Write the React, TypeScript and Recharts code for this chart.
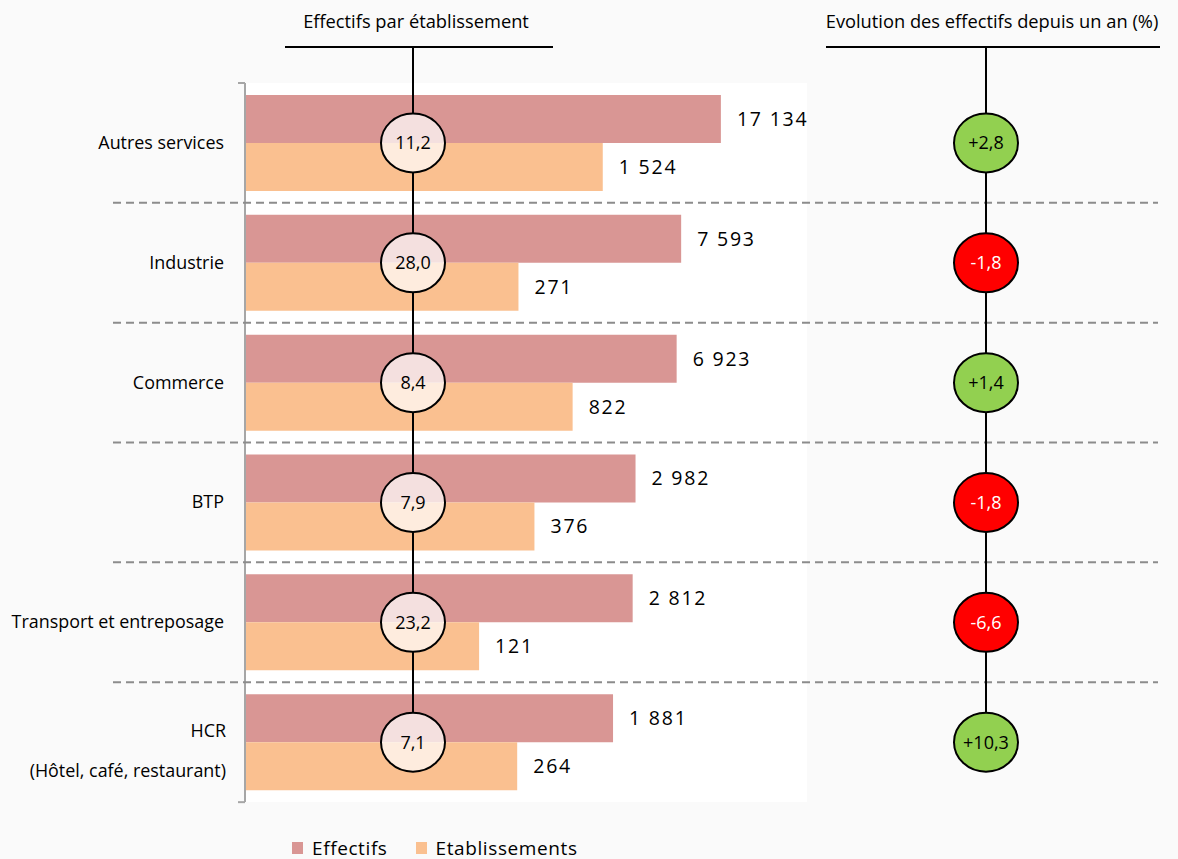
import { BarChart, Bar, XAxis, YAxis, CartesianGrid, LabelList, Legend } from "recharts";

const categories = [
  "Autres services",
  "Industrie",
  "Commerce",
  "BTP",
  "Transport et entreposage",
  "HCR\n(Hôtel, café, restaurant)",
];
const effectifs = [17134, 7593, 6923, 2982, 2812, 1881];
const etablissements = [1524, 271, 822, 376, 121, 264];
const ratios = [11.2, 28.0, 8.4, 7.9, 23.2, 7.1]; // effectifs par établissement
const evolution = [2.8, -1.8, 1.4, -1.8, -6.6, 10.3]; // % sur un an

const FONT = '"Open Sans", "Noto Sans", sans-serif';
const PINK = "#d99694";
const ORANGE = "#fac090";
const GREEN = "#92d050";
const RED = "#ff0000";

const HEADER_Y = 47;
const LEFT_CX = 413;
const RIGHT_CX = 986;
const RX = 32;
const RY = 29.5;

const rows = categories.map((name, i) => ({
  name,
  effectifs: effectifs[i],
  etablissements: etablissements[i],
  ratio: ratios[i],
  evolution: evolution[i],
}));

const fmtThousands = (v: number) => String(v).replace(/\B(?=(\d{3})+(?!\d))/g, " ");
const fmtDec = (v: number) => v.toFixed(1).replace(".", ",");
const fmtSigned = (v: number) => (v > 0 ? "+" : "") + fmtDec(v);

const box = (p: any) => {
  const vb = p.viewBox && p.viewBox.y != null ? p.viewBox : p;
  return { x: vb.x, y: vb.y, width: vb.width, height: vb.height };
};

// dashed separators between categories + end ticks of the axis
function Separator(props: any) {
  const { x, y, height } = box(props);
  const idx = props.index;
  const top = y - height * 0.25;
  return (
    <g>
      {idx > 0 && (
        <line x1={113} x2={1158} y1={top} y2={top} stroke="#8c8c8c" strokeWidth={2} strokeDasharray="8 5" />
      )}
      {idx === 0 && <line x1={x - 7} x2={x} y1={top} y2={top} stroke="#a6a6a6" strokeWidth={2} />}
      {idx === categories.length - 1 && (
        <line x1={x - 7} x2={x} y1={y + height * 2.25} y2={y + height * 2.25} stroke="#a6a6a6" strokeWidth={2} />
      )}
    </g>
  );
}

// stem segments between bubbles (band = 2.5 bar heights)
function Stems(props: any) {
  const { y, height } = box(props);
  const from = props.index === 0 ? HEADER_Y : y - height * 2.5 + RY;
  const to = y - RY;
  return (
    <g>
      {props.index === 0 && (
        <g fontFamily={FONT} fontSize={18.3} fill="#000">
          <text x={416} y={28} textAnchor="middle">Effectifs par établissement</text>
          <line x1={285} x2={553} y1={HEADER_Y} y2={HEADER_Y} stroke="#000" strokeWidth={2} />
          <text x={992} y={28} textAnchor="middle">Evolution des effectifs depuis un an (%)</text>
          <line x1={826} x2={1160} y1={HEADER_Y} y2={HEADER_Y} stroke="#000" strokeWidth={2} />
        </g>
      )}
      <line x1={LEFT_CX} x2={LEFT_CX} y1={from} y2={to} stroke="#000" strokeWidth={2} />
      <line x1={RIGHT_CX} x2={RIGHT_CX} y1={from} y2={to} stroke="#000" strokeWidth={2} />
    </g>
  );
}

function RatioBubble(props: any) {
  const { y } = box(props);
  return (
    <g>
      <ellipse cx={LEFT_CX} cy={y} rx={RX} ry={RY} fill="#fff" fillOpacity={0.7} stroke="#000" strokeWidth={2} />
      <text x={LEFT_CX} y={y} dy={6.5} textAnchor="middle" fontFamily={FONT} fontSize={18} fill="#000">
        {fmtDec(Number(props.value))}
      </text>
    </g>
  );
}

function EvolutionBubble(props: any) {
  const { y } = box(props);
  const v = Number(props.value);
  return (
    <g>
      <ellipse cx={RIGHT_CX} cy={y} rx={RX} ry={RY} fill={v >= 0 ? GREEN : RED} stroke="#000" strokeWidth={2} />
      <text x={RIGHT_CX} y={y} dy={6.5} textAnchor="middle" fontFamily={FONT} fontSize={18} fill={v >= 0 ? "#000" : "#fff"}>
        {fmtSigned(v)}
      </text>
    </g>
  );
}

function CategoryTick(props: any) {
  const { x, y, payload } = props;
  const lines = String(payload.value).split("\n");
  return (
    <text x={x} y={y} textAnchor="end" fontFamily={FONT} fontSize={17.9} fill="#000">
      {lines.length === 1 ? (
        <tspan x={x - 2} dy={6}>{lines[0]}</tspan>
      ) : (
        lines.map((l, i) => (
          <tspan key={i} x={x} dy={i === 0 ? -5 : 40}>{l}</tspan>
        ))
      )}
    </text>
  );
}

function LegendContent(props: any) {
  const items = props.payload || [];
  return (
    <div style={{ display: "flex", alignItems: "center", fontFamily: FONT, fontSize: 19, color: "#000" }}>
      {items.map((it: any) => (
        <div key={it.value} style={{ display: "flex", alignItems: "center", marginRight: 28 }}>
          <span style={{ width: 11, height: 12, background: it.color, marginRight: 9, display: "inline-block" }} />
          <span style={{ letterSpacing: 0.6 }}>{it.value}</span>
        </div>
      ))}
    </div>
  );
}

export default function App() {
  return (
    <div style={{ position: "absolute", left: 0, top: 0, width: 1178, height: 859, background: "#fafafa" }}>
      <BarChart
        width={1178}
        height={859}
        data={rows}
        layout="vertical"
        margin={{ top: 83, right: 371, bottom: 57, left: 0 }}
        barCategoryGap="10%"
        barGap={0}
      >
        <CartesianGrid horizontal={false} vertical={false} fill="#ffffff" />
        <XAxis type="number" scale="log" domain={[1, 100000]} hide allowDataOverflow />
        <YAxis
          type="category"
          dataKey="name"
          width={245}
          axisLine={{ stroke: "#a6a6a6", strokeWidth: 2 }}
          tickLine={false}
          tickMargin={13}
          tick={<CategoryTick />}
        />
        <Legend
          layout="horizontal"
          verticalAlign="middle"
          align="center"
          wrapperStyle={{ top: 835, left: 292, width: 420 }}
          content={<LegendContent />}
        />
        <Bar dataKey="effectifs" name="Effectifs" fill={PINK} isAnimationActive={false}>
          <LabelList dataKey="effectifs" content={<Separator />} />
          <LabelList
            dataKey="effectifs"
            position="right"
            offset={16}
            formatter={(v: any) => fmtThousands(Number(v))}
            fill="#000"
            fontSize={19.5}
            fontFamily={FONT}
            letterSpacing={1.8}
          />
        </Bar>
        <Bar dataKey="etablissements" name="Etablissements" fill={ORANGE} isAnimationActive={false}>
          <LabelList
            dataKey="etablissements"
            position="right"
            offset={16}
            formatter={(v: any) => fmtThousands(Number(v))}
            fill="#000"
            fontSize={19.5}
            fontFamily={FONT}
            letterSpacing={1.8}
          />
          <LabelList dataKey="ratio" content={<Stems />} />
          <LabelList dataKey="ratio" content={<RatioBubble />} />
          <LabelList dataKey="evolution" content={<EvolutionBubble />} />
        </Bar>
      </BarChart>
    </div>
  );
}
